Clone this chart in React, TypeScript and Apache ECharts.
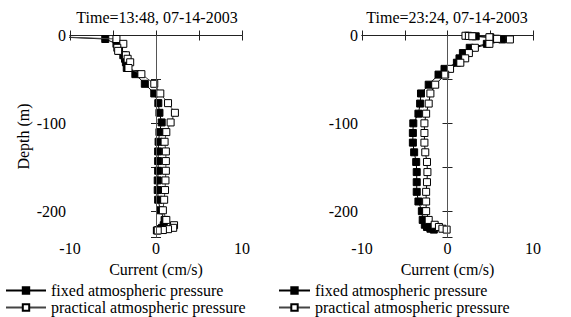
import React, { useEffect, useRef } from "react";
import * as echarts from "echarts";

// Left panel (Time=13:48, 07-14-2003)
const LEFT_DEPTH = [-0.5, -4, -9.5, -14, -17.5, -22.5, -26.5, -30.5, -37, -44, -55, -66, -77, -88, -99, -110, -121, -132, -143, -154, -165, -176, -187, -199, -210, -216, -219, -220.5, -221.5, -222];
const LEFT_FIXED = [-14, -5.9, -4.6, -4.3, -4.3, -3.8, -3.6, -3.5, -3.4, -2.4, -1.3, -0.2, 0.27, 0.4, 0.66, 0.4, 0.3, 0.25, 0.25, 0.25, 0.2, 0.2, 0.25, 0.5, 1.0, 0.9, 0.7, 0.5, 0.3, 0.1];
const LEFT_PRACTICAL = [-14, -4.6, -3.8, -4.5, -4.4, -3.5, -3.3, -3.0, -3.2, -1.7, -0.2, 0.5, 1.4, 2.2, 1.7, 1.2, 1.0, 1.15, 1.15, 1.15, 1.1, 1.05, 0.95, 0.8, 1.2, 2.1, 2.0, 1.4, 0.8, 0.2];

// Right panel (Time=23:24, 07-14-2003)
const RIGHT_DEPTH = [-0.3, -0.6, -0.9, -2, -3.8, -4.5, -9.5, -14, -20, -26, -31, -38, -44.5, -56, -66, -77.5, -89, -100, -111, -122, -133, -144, -155.5, -167, -178, -189, -200, -210, -215.5, -218, -220, -221];
const RIGHT_FIXED = [2.4, 2.8, 3.3, 5.0, 5.6, 6.4, 4.6, 2.6, 1.8, 1.4, 1.1, -0.35, -1.05, -2.2, -3.1, -3.2, -3.4, -4.0, -4.05, -4.05, -3.9, -3.66, -3.6, -3.6, -3.6, -3.4, -3.0, -2.9, -2.65, -2.4, -2.0, -1.6];
const RIGHT_PRACTICAL = [2.1, 2.5, 2.9, 4.9, 5.8, 7.3, 4.9, 3.2, 2.5, 2.07, 1.5, 0.3, -0.27, -1.44, -2.0, -2.2, -2.5, -2.7, -2.7, -2.7, -2.6, -2.4, -2.35, -2.4, -2.5, -2.5, -2.5, -2.2, -1.5, -1.0, -0.6, -0.1];

const TITLES = ["Time=13:48, 07-14-2003", "Time=23:24, 07-14-2003"];
const SERIES_NAMES = ["fixed atmospheric pressure", "practical atmospheric pressure"];
const X_LABELS = [-10, 0, 10];
const Y_LABELS = [0, -100, -200];

const FONT = "Liberation Serif";

function pairs(xs: number[], ys: number[]) {
  return xs.map((x, i) => [x, ys[i]]);
}

export default function App() {
  const ref = useRef<HTMLDivElement>(null);
  useEffect(() => {
    document.body.style.margin = "0";
    const chart = echarts.init(ref.current!, null, { renderer: "svg" });
    const grids = [
      { left: 70, top: 35.5, width: 172, height: 202 },
      { left: 362, top: 35.5, width: 171, height: 202 },
    ];
    const axisLine = { show: true, lineStyle: { color: "#222", width: 1 } };
    const xAxes: any[] = [];
    const yAxes: any[] = [];
    [0, 1].forEach((g) => {
      xAxes.push({
        type: "value", gridIndex: g, min: -10, max: 10, interval: 5, position: "bottom",
        axisLine, splitLine: { show: false },
        axisTick: { show: true, inside: true, length: 5, lineStyle: { color: "#222" } },
        axisLabel: {
          margin: 3, color: "#000", fontFamily: FONT, fontSize: 16,
          formatter: (v: number) => (X_LABELS.includes(v) ? String(v) : ""),
        },
        name: "Current (cm/s)", nameLocation: "middle", nameGap: 20,
        nameTextStyle: { color: "#000", fontFamily: FONT, fontSize: 16 },
      });
      xAxes.push({
        type: "value", gridIndex: g, min: -10, max: 10, interval: 5, position: "top",
        axisLine, splitLine: { show: false },
        axisTick: { show: true, inside: true, length: 5, lineStyle: { color: "#222" } },
        axisLabel: { show: false },
      });
      yAxes.push({
        type: "value", gridIndex: g, min: -230, max: 0, splitNumber: 5, position: "left",
        axisLine, splitLine: { show: false },
        axisTick: { show: true, inside: true, length: 5, lineStyle: { color: "#222" } },
        axisLabel: {
          margin: 4, color: "#000", fontFamily: FONT, fontSize: 16,
          formatter: (v: number) => (Y_LABELS.includes(v) ? String(v) : ""),
        },
        name: g === 0 ? "Depth (m)" : "", nameLocation: "middle", nameGap: 39,
        nameTextStyle: { color: "#000", fontFamily: FONT, fontSize: 16 },
      });
      yAxes.push({
        type: "value", gridIndex: g, min: -230, max: 0, splitNumber: 5, position: "right",
        axisLine, splitLine: { show: false },
        axisTick: { show: true, inside: true, length: 5, lineStyle: { color: "#222" } },
        axisLabel: { show: false },
      });
    });

    const mkSeries = (g: number, name: string, data: number[][], filled: boolean, lineColor: string, zero: boolean) => ({
      type: "line", name, xAxisIndex: g * 2, yAxisIndex: g * 2, data,
      symbol: "rect", symbolSize: 7, clip: true,
      lineStyle: { color: lineColor, width: 1 },
      itemStyle: filled
        ? { color: "#000", borderColor: "#000", borderWidth: 1 }
        : { color: "#fff", borderColor: "#000", borderWidth: 1 },
      markLine: zero
        ? {
            silent: true, symbol: "none", label: { show: false },
            lineStyle: { color: "#555", width: 1, type: "solid" },
            data: [{ xAxis: 0 }],
          }
        : undefined,
      z: filled ? 2 : 3,
    });

    const legendCommon = {
      orient: "vertical", itemHeight: 8, itemGap: 0,
      textStyle: { color: "#000", fontFamily: FONT, fontSize: 16, lineHeight: 17 },
      data: SERIES_NAMES, selectedMode: false, padding: 0,
    };

    chart.setOption({
      animation: false,
      backgroundColor: "#fff",
      grid: grids,
      xAxis: xAxes,
      yAxis: yAxes,
      legend: [
        { ...legendCommon, left: 5, top: 282, itemWidth: 40 },
        { ...legendCommon, left: 278, top: 282, itemWidth: 31 },
      ],
      graphic: [
        { type: "text", x: 157, y: 17, style: { text: TITLES[0], fill: "#000", fontFamily: FONT, fontSize: 16, align: "center", verticalAlign: "middle" } },
        { type: "text", x: 447, y: 17, style: { text: TITLES[1], fill: "#000", fontFamily: FONT, fontSize: 16, align: "center", verticalAlign: "middle" } },
      ],
      series: [
        mkSeries(0, SERIES_NAMES[0], pairs(LEFT_FIXED, LEFT_DEPTH), true, "#000", true),
        mkSeries(0, SERIES_NAMES[1], pairs(LEFT_PRACTICAL, LEFT_DEPTH), false, "#444", false),
        mkSeries(1, SERIES_NAMES[0], pairs(RIGHT_FIXED, RIGHT_DEPTH), true, "#000", true),
        mkSeries(1, SERIES_NAMES[1], pairs(RIGHT_PRACTICAL, RIGHT_DEPTH), false, "#000", false),
      ],
    });
    return () => chart.dispose();
  }, []);
  return <div ref={ref} style={{ width: 571, height: 317 }} />;
}
